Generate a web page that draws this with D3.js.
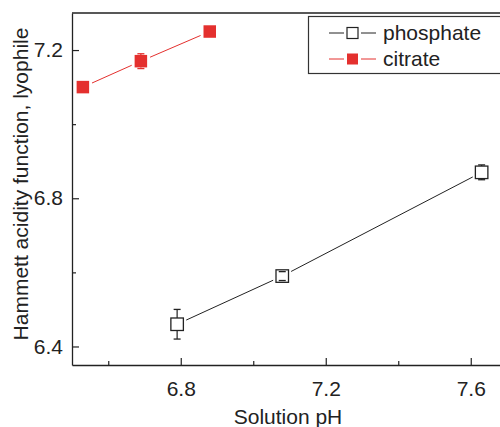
<!DOCTYPE html>
<html>
<head>
<meta charset="utf-8">
<script src="https://cdnjs.cloudflare.com/ajax/libs/d3/7.8.5/d3.min.js"></script>
<style>
  body { margin: 0; background: #fff; }
  svg text { font-family: "Liberation Sans", Arial, sans-serif; fill: #222; }
</style>
</head>
<body>
<div id="chart"></div>
<script>
// data
var phosphatePH  = [6.79, 7.08, 7.63];
var phosphateH0  = [6.46, 6.59, 6.87];
var phosphateErr = [0.04, 0.012, 0.02];

var citratePH  = [6.53, 6.69, 6.88];
var citrateH0  = [7.10, 7.17, 7.25];
var citrateErr = [0, 0.02, 0];

var xMajor = [6.8, 7.2, 7.6];
var xMinor = [6.6, 7.0, 7.4];
var yMajor = [6.4, 6.8, 7.2];
var yMinor = [6.6, 7.0];

var seriesNames = ["phosphate", "citrate"];

var W = 500, H = 427;
var margin = {top: 13, right: -7, bottom: 62, left: 72};
var red = "#e4302e", ink = "#222";
var fs = "21px";

var svg = d3.select("#chart").append("svg")
    .attr("width", W).attr("height", H);

var x = d3.scaleLinear().domain([6.5, 7.7]).range([margin.left, W - margin.right]);
var y = d3.scaleLinear().domain([6.35, 7.3]).range([H - margin.bottom, margin.top]);

// frame (top + right lines)
svg.append("path")
   .attr("d", "M" + x(6.5) + "," + y(7.3) + "H" + x(7.7) + "V" + y(6.35))
   .attr("fill", "none").attr("stroke", ink).attr("stroke-width", 1.3);

// bottom axis, inward ticks
var gx = svg.append("g").attr("transform", "translate(0," + y(6.35) + ")");
gx.call(d3.axisBottom(x).tickValues(xMajor).tickSizeInner(-7).tickSizeOuter(0)
          .tickPadding(16).tickFormat(d3.format(".1f")));
gx.append("g").call(d3.axisBottom(x).tickValues(xMinor).tickSizeInner(-4)
          .tickSizeOuter(0).tickFormat(""))
  .select(".domain").remove();

var gy = svg.append("g").attr("transform", "translate(" + x(6.5) + ",0)");
gy.call(d3.axisLeft(y).tickValues(yMajor).tickSizeInner(-7).tickSizeOuter(0)
          .tickPadding(9).tickFormat(d3.format(".1f")));
gy.append("g").call(d3.axisLeft(y).tickValues(yMinor).tickSizeInner(-4)
          .tickSizeOuter(0).tickFormat(""))
  .select(".domain").remove();

svg.selectAll(".domain").attr("stroke", ink).attr("stroke-width", 1.3);
svg.selectAll(".tick line").attr("stroke", ink).attr("stroke-width", 1.2);
svg.selectAll(".tick text").style("font-size", fs).attr("fill", ink);

// axis titles
svg.append("text")
   .attr("x", 288).attr("y", 424)
   .attr("text-anchor", "middle").style("font-size", fs)
   .text("Solution pH");

svg.append("text")
   .attr("transform", "translate(28," + 184 + ") rotate(-90)")
   .attr("text-anchor", "middle").style("font-size", fs)
   .text("Hammett acidity function, lyophile");

// connecting lines with small gaps at the markers
function gappedSegments(xs, ys, gap) {
  var segs = [];
  for (var i = 0; i < xs.length - 1; i++) {
    var x0 = x(xs[i]), y0 = y(ys[i]), x1 = x(xs[i + 1]), y1 = y(ys[i + 1]);
    var len = Math.hypot(x1 - x0, y1 - y0), ux = (x1 - x0) / len, uy = (y1 - y0) / len;
    segs.push([x0 + ux * gap, y0 + uy * gap, x1 - ux * gap, y1 - uy * gap]);
  }
  return segs;
}

function drawSeries(xs, ys, errs, color, filled) {
  var g = svg.append("g");
  var s = 12.5, half = s / 2;
  g.selectAll("line.conn").data(gappedSegments(xs, ys, 10))
    .enter().append("line").attr("class", "conn")
    .attr("x1", function(d) { return d[0]; }).attr("y1", function(d) { return d[1]; })
    .attr("x2", function(d) { return d[2]; }).attr("y2", function(d) { return d[3]; })
    .attr("stroke", color).attr("stroke-width", 1);

  var pts = xs.map(function(v, i) { return {x: v, y: ys[i], e: errs[i]}; });

  // error bars
  pts.forEach(function(p) {
    if (!p.e) return;
    var cx = x(p.x), cy = y(p.y), top = y(p.y + p.e), bot = y(p.y - p.e);
    if (cy - top > half) {
      g.append("line").attr("x1", cx).attr("x2", cx).attr("y1", top).attr("y2", cy - half)
       .attr("stroke", color).attr("stroke-width", 1.2);
      g.append("line").attr("x1", cx).attr("x2", cx).attr("y1", cy + half).attr("y2", bot)
       .attr("stroke", color).attr("stroke-width", 1.2);
    }
  });

  g.selectAll("rect.mk").data(pts).enter().append("rect").attr("class", "mk")
    .attr("x", function(d) { return x(d.x) - half; })
    .attr("y", function(d) { return y(d.y) - half; })
    .attr("width", s).attr("height", s)
    .attr("fill", filled ? color : "#fff")
    .attr("stroke", filled ? "none" : color).attr("stroke-width", 1.3);

  pts.forEach(function(p) {
    if (!p.e) return;
    var cx = x(p.x);
    [y(p.y + p.e), y(p.y - p.e)].forEach(function(yy) {
      g.append("line").attr("x1", cx - 3.5).attr("x2", cx + 3.5).attr("y1", yy).attr("y2", yy)
       .attr("stroke", color).attr("stroke-width", 1.3);
    });
  });
}

drawSeries(phosphatePH, phosphateH0, phosphateErr, ink, false);
drawSeries(citratePH, citrateH0, citrateErr, red, true);

// legend
var lg = svg.append("g");
lg.append("rect").attr("x", 308.5).attr("y", 16.5).attr("width", 200).attr("height", 57)
  .attr("fill", "#fff").attr("stroke", "#333").attr("stroke-width", 1.2);

seriesNames.forEach(function(name, i) {
  var cy = 33 + i * 26, color = i === 0 ? ink : red;
  lg.append("line").attr("x1", 329).attr("x2", 344).attr("y1", cy).attr("y2", cy)
    .attr("stroke", color).attr("stroke-width", 1);
  lg.append("line").attr("x1", 361).attr("x2", 376).attr("y1", cy).attr("y2", cy)
    .attr("stroke", color).attr("stroke-width", 1);
  lg.append("rect").attr("x", 347).attr("y", cy - 5.5).attr("width", 11).attr("height", 11)
    .attr("fill", i === 0 ? "#fff" : color)
    .attr("stroke", i === 0 ? color : "none").attr("stroke-width", 1.2);
  lg.append("text").attr("x", 383).attr("y", cy + 7).style("font-size", fs).text(name);
});
</script>
</body>
</html>
